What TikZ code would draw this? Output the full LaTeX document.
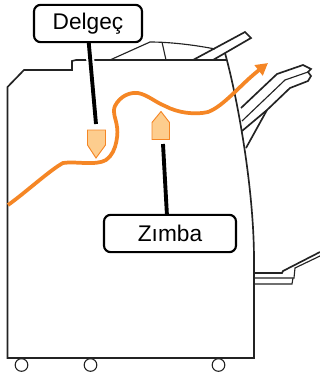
\documentclass[tikz,border=0pt]{standalone}
\usepackage{fontspec}
\setmainfont{Liberation Sans}
\definecolor{flow}{RGB}{245,134,37}
\definecolor{fillp}{RGB}{253,205,142}
\definecolor{line}{RGB}{35,35,35}
\usetikzlibrary{arrows.meta}
\tikzset{
 mach/.style={draw=line,line width=1.25pt,line join=miter},
 thin mach/.style={draw=line,line width=0.85pt},
 label box/.style={draw=black,line width=1.6pt,rounded corners=5pt,fill=white,font=\fontsize{17pt}{19pt}\selectfont,inner sep=0pt,align=center},
 leader/.style={draw=black,line width=2.9pt},
 halo/.style={draw=white,line width=6pt},
 marker/.style={draw=flow,fill=fillp,line width=0.7pt},
 wheel/.style={draw=line,line width=0.8pt,circle,minimum size=9.5pt,inner sep=0pt},
}
\begin{document}
\begin{tikzpicture}[x=0.75pt,y=-0.75pt]
\useasboundingbox (0,0) rectangle (320,376);
\fill[white] (0,0) rectangle (320,376);
% body
\draw[mach] (225,53) .. controls (238,100) and (254,190) .. (254,260) -- (254,358) -- (7.5,358) -- (7.5,87) -- (24,70) -- (72,70) -- (72,61) -- (76,60) -- (226,60);
% top tray
\draw[thin mach] (110,60) -- (150,42) .. controls (170,42) and (195,45) .. (215,49);
\draw[thin mach] (162,42) -- (166,60);
\draw[mach] (193,60) -- (245,32) -- (251,38) -- (213,60);
% right tray
\draw[mach] (241,108) -- (277,74) -- (303,65) -- (311,69) -- (308,72) -- (311,76) -- (308,81) -- (290,88) -- (267,110) -- (242,131);
\draw[thin mach] (242,121) -- (285,80) -- (308,72);
\draw[mach] (267,110) -- (246,148);
% bottom tray
\draw[mach] (254,273) -- (282,273) -- (283,271) -- (320,252);
\draw[thin mach] (254,278) -- (294,278) -- (295,268) -- (320,256);
\draw[thin mach] (254,284) -- (292,284) -- (293,278);
% wheels
\node[wheel] (w1) at (21.5,365) {};
\node[wheel] (w2) at (90.5,365) {};
\node[wheel] (w3) at (218.5,365) {};
% markers
\draw[marker] (87.5,130) -- (105.5,130) -- (105.5,145) -- (96,158) -- (87.5,145) -- cycle;
\draw[marker] (152,139.5) -- (169.5,139.5) -- (169.5,122.5) -- (161,111.5) -- (152,122.5) -- cycle;
% flow
\draw[flow,line width=2.8pt,-{Triangle[length=9pt,width=9.5pt]}] (8,205) .. controls (25,193) and (50,170) .. (63,163) .. controls (75,161) and (96,166) .. (106,160) .. controls (118,152) and (118,130) .. (117,127) .. controls (116,118) and (112,113) .. (115,106) .. controls (120,96) and (130,92) .. (138,93) .. controls (148,95) and (155,102) .. (165,106) .. controls (178,113) and (195,115) .. (208,112) .. controls (224,106) and (240,85) .. (268,63);
% labels
\coordinate (dm) at (96,124);
\coordinate (zm) at (163,144);
\coordinate (dt) at (88.5,40);
\coordinate (zt) at (167,216);
\draw[halo] (dt) -- (dm);
\draw[leader] (dt) -- (dm);
\draw[leader] (zm) -- (zt);
\node[label box,minimum width=81pt,minimum height=28pt] (d) at (88,23.5) {Delgeç};
\node[label box,minimum width=99pt,minimum height=28pt] (z) at (170,233.5) {Zımba};
\end{tikzpicture}
\end{document}
